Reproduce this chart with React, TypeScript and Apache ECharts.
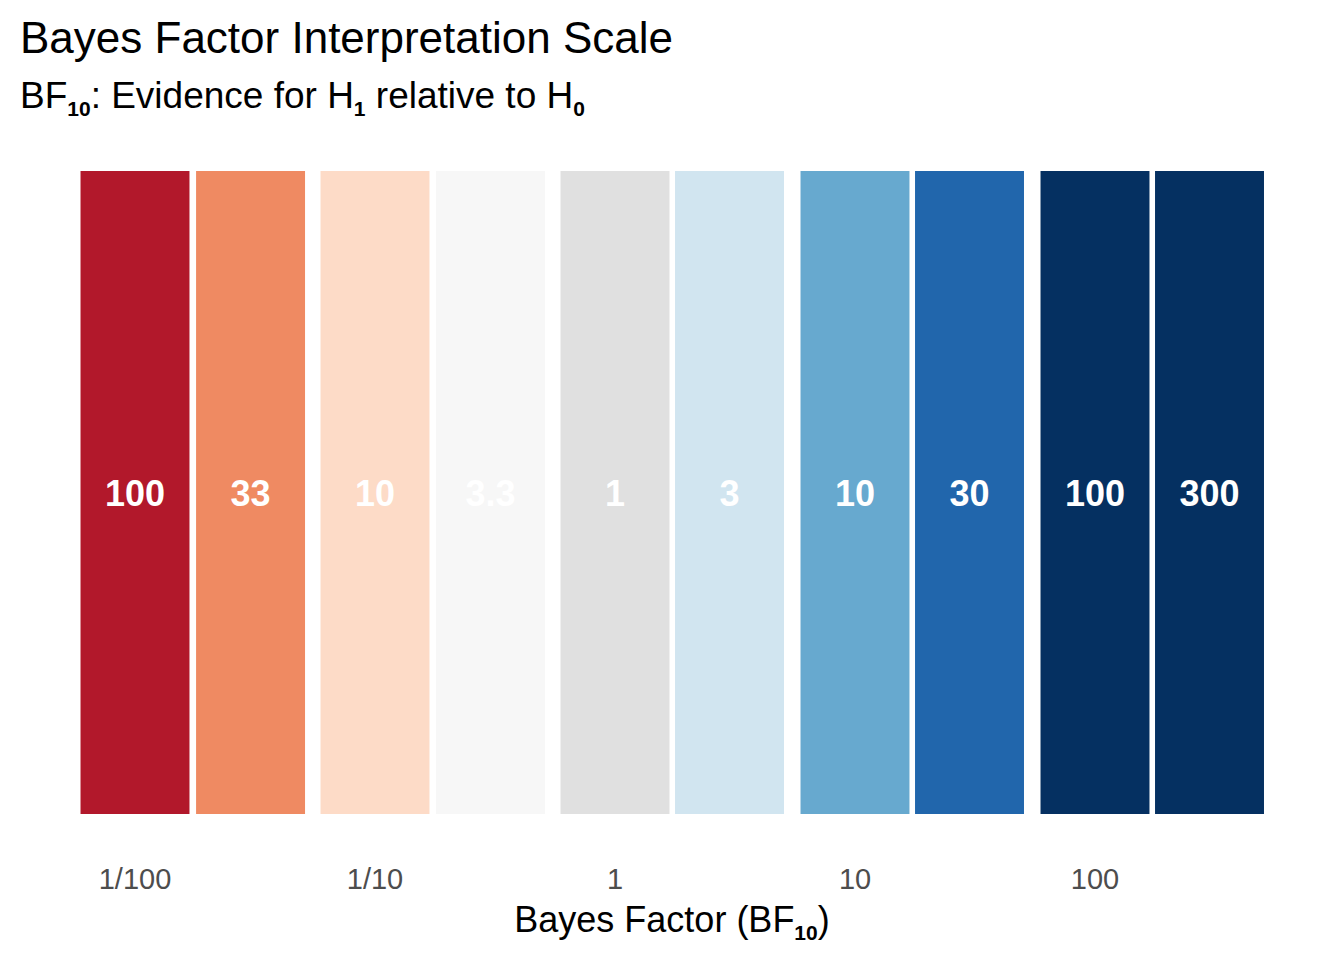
import React, { useEffect, useRef } from "react";
import * as echarts from "echarts";

// Bayes factor bins (BF10) — positioned on a log10 axis
const bfValues = [1 / 100, 1 / 33, 1 / 10, 1 / 3.3, 1, 3, 10, 30, 100, 300];
const binLabels = ["100", "33", "10", "3.3", "1", "3", "10", "30", "100", "300"];
const binColors = [
  "#B2182B", "#EF8A62", "#FDDBC7", "#F7F7F7", "#E0E0E0",
  "#D1E5F0", "#67A9CF", "#2166AC", "#053061", "#053061",
];
const tickValues = [1 / 100, 1 / 10, 1, 10, 100];
const tickLabels = ["1/100", "1/10", "1", "10", "100"];

const FONT = '"Liberation Sans", Arial, Helvetica, sans-serif';
const HALF_WIDTH = 0.227; // half tile width in log10 units

export default function App() {
  const ref = useRef<HTMLDivElement>(null);

  useEffect(() => {
    if (!ref.current) return;
    const chart = echarts.init(ref.current, null, { renderer: "svg" });
    const tickLogs = tickValues.map((v) => Math.round(Math.log10(v)));

    chart.setOption({
      animation: false,
      backgroundColor: "#ffffff",
      grid: { left: 75, width: 1200, top: 171, height: 643 },
      xAxis: {
        type: "value",
        min: -2.25,
        max: 2.75,
        interval: 0.25,
        axisLine: { show: false },
        axisTick: { show: false },
        splitLine: { show: false },
        axisLabel: {
          interval: 0,
          margin: 50,
          color: "#4D4D4D",
          fontSize: 29,
          fontFamily: FONT,
          formatter: (v: number) => {
            const r = Math.round(v);
            if (Math.abs(v - r) > 1e-6) return "";
            const idx = tickLogs.indexOf(r);
            return idx >= 0 ? tickLabels[idx] : "";
          },
        },
      },
      yAxis: { type: "value", min: 0, max: 1, show: false },
      series: [
        {
          type: "custom",
          data: bfValues.map((b, i) => [Math.log10(b), i]),
          renderItem: (params: any, api: any) => {
            const v = api.value(0);
            const i = api.value(1);
            const p0 = api.coord([v - HALF_WIDTH, 1]);
            const p1 = api.coord([v + HALF_WIDTH, 0]);
            return {
              type: "group",
              children: [
                {
                  type: "rect",
                  shape: { x: p0[0], y: p0[1], width: p1[0] - p0[0], height: p1[1] - p0[1] },
                  style: { fill: binColors[i] },
                },
                {
                  type: "text",
                  x: (p0[0] + p1[0]) / 2,
                  y: (p0[1] + p1[1]) / 2 + 1,
                  style: {
                    text: binLabels[i],
                    fill: "#ffffff",
                    font: `bold 36px ${FONT}`,
                    align: "center",
                    verticalAlign: "middle",
                  },
                },
              ],
            };
          },
        },
      ],
      graphic: [
        {
          type: "text",
          left: 20,
          top: 15,
          style: {
            text: "Bayes Factor Interpretation Scale",
            fill: "#000000",
            font: `44px ${FONT}`,
          },
        },
        {
          type: "text",
          left: 20,
          top: 71,
          style: {
            text: "BF{sub|10}: Evidence for H{sub|1} relative to H{sub|0}",
            fill: "#000000",
            font: `37px ${FONT}`,
            lineHeight: 48,
            rich: {
              sub: {
                fontSize: 21,
                fontWeight: "bold",
                fontFamily: FONT,
                lineHeight: 22,
                verticalAlign: "bottom",
                fill: "#000000",
              },
            },
          },
        },
        {
          type: "text",
          x: 672,
          y: 919,
          style: {
            text: "Bayes Factor (BF{sub|10})",
            fill: "#000000",
            font: `36px ${FONT}`,
            lineHeight: 48,
            align: "center",
            verticalAlign: "middle",
            rich: {
              sub: {
                fontSize: 21,
                fontWeight: "bold",
                fontFamily: FONT,
                lineHeight: 22,
                verticalAlign: "bottom",
                fill: "#000000",
              },
            },
          },
        },
      ],
    });

    return () => chart.dispose();
  }, []);

  return (
    <div
      ref={ref}
      style={{ position: "fixed", left: 0, top: 0, width: 1344, height: 960 }}
    />
  );
}
